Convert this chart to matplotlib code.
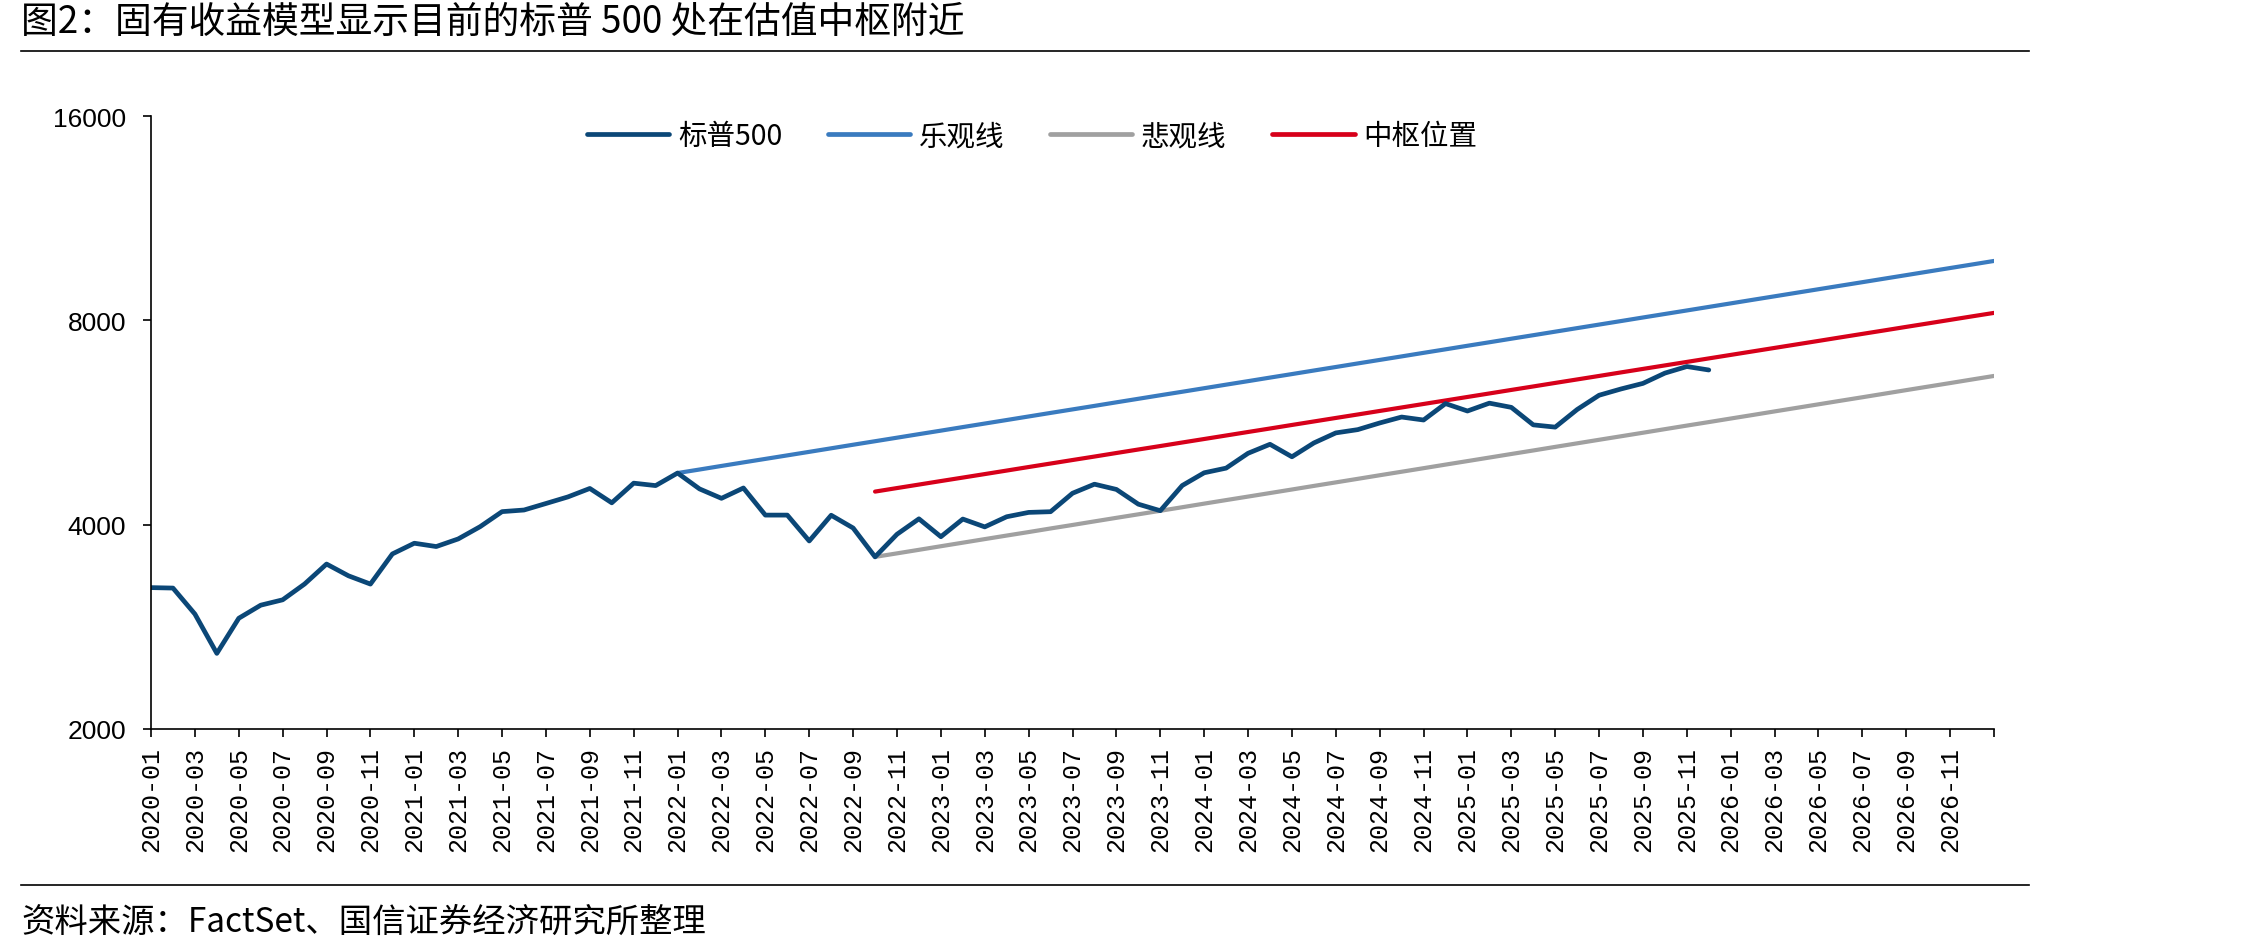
import matplotlib
matplotlib.use('Agg')
import matplotlib.pyplot as plt
from matplotlib.lines import Line2D
import numpy as np

plt.rcParams['font.family'] = ['Noto Sans CJK SC', 'DejaVu Sans']
plt.rcParams['axes.unicode_minus'] = False

# monthly categories 2020-01 .. 2027-01
months = ['%d-%02d' % (2020 + i // 12, i % 12 + 1) for i in range(85)]

# S&P 500, 2020-01 .. 2025-12 (index 0..71)
spx = [3231, 3226, 2954, 2585, 2912, 3044, 3100, 3271, 3500, 3363, 3270, 3622,
       3756, 3714, 3811, 3973, 4181, 4204, 4298, 4395, 4523, 4308, 4605, 4567,
       4766, 4516, 4374, 4530, 4132, 4132, 3785, 4130, 3955, 3586, 3872, 4080,
       3840, 4077, 3970, 4109, 4170, 4180, 4450, 4589, 4508, 4288, 4194, 4568,
       4770, 4846, 5096, 5254, 5036, 5278, 5461, 5522, 5648, 5763, 5705, 6032,
       5882, 6041, 5955, 5612, 5569, 5912, 6205, 6339, 6460, 6689, 6840, 6760]

# optimistic line, 2022-01 .. 2027-01 (index 24..84)
optimistic = [4766, 4823, 4882, 4941, 5000, 5060, 5121, 5183, 5246, 5309,
              5373, 5438, 5503, 5570, 5637, 5705, 5774, 5844, 5914, 5985,
              6058, 6131, 6205, 6279, 6355, 6432, 6509, 6588, 6667, 6748,
              6829, 6912, 6995, 7079, 7165, 7251, 7339, 7427, 7517, 7607,
              7699, 7792, 7886, 7981, 8078, 8175, 8273, 8373, 8474, 8577,
              8680, 8785, 8891, 8998, 9106, 9216, 9327, 9440, 9554, 9669, 9786]

# pessimistic line, 2022-10 .. 2027-01 (index 33..84)
pessimistic = [3586, 3629, 3673, 3718, 3763, 3809, 3855, 3901, 3949, 3996,
               4045, 4094, 4143, 4193, 4244, 4296, 4348, 4400, 4453, 4507,
               4562, 4617, 4673, 4730, 4787, 4845, 4904, 4963, 5023, 5084,
               5145, 5208, 5271, 5335, 5399, 5464, 5531, 5598, 5665, 5734,
               5803, 5874, 5945, 6017, 6090, 6163, 6238, 6314, 6390, 6467,
               6546, 6625]

# central (fair value) line, 2022-10 .. 2027-01 (index 33..84)
central = [4475, 4529, 4583, 4638, 4693, 4749, 4806, 4864, 4922, 4981,
           5040, 5101, 5162, 5223, 5286, 5349, 5413, 5478, 5543, 5610,
           5677, 5745, 5813, 5883, 5953, 6024, 6096, 6169, 6243, 6318,
           6393, 6470, 6547, 6625, 6705, 6785, 6866, 6948, 7031, 7115,
           7200, 7286, 7373, 7461, 7551, 7641, 7732, 7825, 7918, 8013,
           8109, 8205]

yticks = [2000, 4000, 8000, 16000]

x_spx = np.arange(len(spx))
x_opt = np.arange(24, 24 + len(optimistic))
x_pes = np.arange(33, 33 + len(pessimistic))
x_cen = np.arange(33, 33 + len(central))

fig = plt.figure(figsize=(22.44, 9.53), dpi=100)
ax = fig.add_axes([0.0673, 0.234, 0.8213, 0.6432])

ax.plot(x_opt, optimistic, color='#3A7BBF', lw=3.0, solid_capstyle='round', label='乐观线')
ax.plot(x_pes, pessimistic, color='#A0A0A0', lw=3.0, solid_capstyle='round', label='悲观线')
ax.plot(x_cen, central, color='#D7001A', lw=3.0, solid_capstyle='round', label='中枢位置')
ax.plot(x_spx, spx, color='#0B4777', lw=3.4, solid_capstyle='round', label='标普500')

ax.set_yscale('log')
ax.set_ylim(2000, 16000)
ax.set_yticks(yticks)
ax.set_yticklabels([str(v) for v in yticks], fontsize=19, family=['Liberation Sans', 'DejaVu Sans'])
ax.yaxis.set_minor_locator(matplotlib.ticker.NullLocator())

ax.set_xlim(0, 84)
ticks = list(range(0, 85, 2))
ax.set_xticks(ticks)
ax.set_xticklabels([months[t] if t < 84 else '' for t in ticks], rotation=90,
                   fontsize=18, family=['Liberation Mono', 'DejaVu Sans Mono'])

for s in ['top', 'right']:
    ax.spines[s].set_visible(False)
for s in ['left', 'bottom']:
    ax.spines[s].set_linewidth(1.2)
    ax.spines[s].set_color('black')
ax.tick_params(axis='both', direction='out', length=6, width=1.2, color='black')
ax.tick_params(axis='y', pad=12)
ax.tick_params(axis='x', pad=6)

handles = [Line2D([], [], color='#0B4777', lw=3.4, solid_capstyle='round'),
           Line2D([], [], color='#3A7BBF', lw=3.4, solid_capstyle='round'),
           Line2D([], [], color='#A0A0A0', lw=3.4, solid_capstyle='round'),
           Line2D([], [], color='#D7001A', lw=3.4, solid_capstyle='round')]
ax.legend(handles, ['标普500', '乐观线', '悲观线', '中枢位置'], loc='center',
          bbox_to_anchor=(0.478, 0.967), ncol=4, frameon=False, fontsize=20.5,
          handlelength=2.9, handletextpad=0.3, columnspacing=1.6)

fig.text(0.0094, 0.976, '图2：固有收益模型显示目前的标普 500 处在估值中枢附近',
         fontsize=26.5, va='center', ha='left')
fig.add_artist(Line2D([0.0094, 0.904], [0.9454, 0.9454], color='black', lw=1.2))
fig.add_artist(Line2D([0.0094, 0.904], [0.0703, 0.0703], color='black', lw=1.2))
fig.text(0.0094, 0.0325, '资料来源：FactSet、国信证券经济研究所整理',
         fontsize=24, va='center', ha='left')

fig.savefig('out.png', dpi=100)
